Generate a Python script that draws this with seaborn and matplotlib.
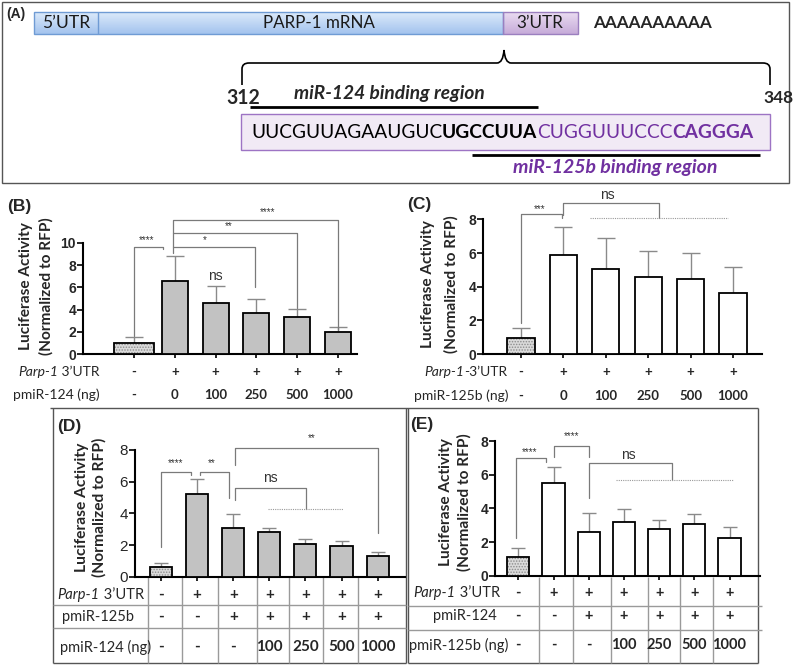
import numpy as np
import matplotlib
matplotlib.use('Agg')
import matplotlib.pyplot as plt
import matplotlib.transforms as mtransforms
from matplotlib.colors import LinearSegmentedColormap, to_rgba
from matplotlib.patches import Rectangle, PathPatch
from matplotlib.path import Path
import seaborn as sns

# ---- data ----
# (B) Parp-1 3'UTR + pmiR-124
b_means = [0.95, 6.6, 4.6, 3.65, 3.35, 1.95]
b_upper = [1.55, 8.8, 6.1, 5.0, 4.05, 2.45]
b_utr = ['-', '+', '+', '+', '+', '+']
b_dose = ['-', '0', '100', '250', '500', '1000']

# (C) Parp-1 3'UTR + pmiR-125b
c_means = [0.97, 5.86, 5.05, 4.55, 4.44, 3.64]
c_upper = [1.52, 7.56, 6.91, 6.12, 5.98, 5.19]
c_utr = ['-', '+', '+', '+', '+', '+']
c_dose = ['-', '0', '100', '250', '500', '1000']

# (D) pmiR-125b fixed, pmiR-124 titrated
d_means = [0.64, 5.2, 3.09, 2.85, 2.07, 1.97, 1.31]
d_upper = [0.85, 6.15, 3.97, 3.1, 2.39, 2.26, 1.59]
d_utr = ['-', '+', '+', '+', '+', '+', '+']
d_fixed = ['-', '-', '+', '+', '+', '+', '+']
d_dose = ['-', '-', '-', '100', '250', '500', '1000']

# (E) pmiR-124 fixed, pmiR-125b titrated
e_means = [1.09, 5.49, 2.6, 3.19, 2.75, 3.09, 2.22]
e_upper = [1.62, 6.44, 3.74, 3.94, 3.31, 3.68, 2.87]
e_utr = ['-', '+', '+', '+', '+', '+', '+']
e_fixed = ['-', '-', '+', '+', '+', '+', '+']
e_dose = ['-', '-', '-', '100', '250', '500', '1000']

seq_parts = ['UUCGUUAGAAUGUC', 'UGCCUUA', 'CUGGUUUCCC', 'CAGGGA']

W, H = 793, 669
PURPLE = '#7030a0'
GREY_BAR = '#c2c2c2'
BRK = '#7a7a7a'

sns.set_theme(style='ticks')
plt.rcParams['font.family'] = ['Lato', 'DejaVu Sans']
plt.rcParams['hatch.linewidth'] = 0.7

fig = plt.figure(figsize=(W / 100, H / 100), dpi=100)
fig.patch.set_facecolor('white')

# overlay axes in pixel coordinates for the schematic, labels and tables
ov = fig.add_axes([0, 0, 1, 1])
ov.set_xlim(0, W)
ov.set_ylim(H, 0)
ov.axis('off')
ov.patch.set_alpha(0)
renderer = fig.canvas.get_renderer()


def text_width(s, **kw):
    t = ov.text(0, 0, s, **kw)
    w = t.get_window_extent(renderer).width
    t.remove()
    return w


def rich(x, y, pieces, ha='left', size=10, target=None):
    widths = [text_width(s, fontsize=size, **kw) for s, kw in pieces]
    if target:
        size = size * target / sum(widths)
        widths = [w * target / sum(widths) for w in widths]
    total = sum(widths)
    start = {'left': x, 'right': x - total, 'center': x - total / 2}[ha]
    for (s, kw), w in zip(pieces, widths):
        ov.text(start, y, s, ha='left', va='center', fontsize=size, **kw)
        start += w


def fit(x, y, s, target, ha='center', size=10, **kw):
    w = text_width(s, fontsize=size, **kw)
    ov.text(x, y, s, ha=ha, va='center', fontsize=size * target / w, **kw)


def line(xs, ys, color='#555555', lw=1.0, **kw):
    ov.plot(xs, ys, color=color, lw=lw, solid_capstyle='butt', **kw)


# ================= panel A =================
ov.add_patch(Rectangle((2, 2), 787, 181, fill=False, ec='#555555', lw=1.0))
ov.text(6, 14, '(A)', fontsize=10, fontweight='bold', family='Liberation Sans', va='center')

grad = np.linspace(0, 1, 60).reshape(-1, 1)
blue = LinearSegmentedColormap.from_list('blue', ['#dceafa', '#a3c3ee'])
lilac = LinearSegmentedColormap.from_list('lilac', ['#eadcf1', '#c6abd9'])
ov.imshow(grad, extent=(34, 503, 34, 12), cmap=blue, aspect='auto', zorder=1)
ov.imshow(grad, extent=(503, 578, 34, 12), cmap=lilac, aspect='auto', zorder=1)
ov.set_xlim(0, W)
ov.set_ylim(H, 0)
ov.add_patch(Rectangle((34, 12), 469, 22, fill=False, ec='#6f9bd4', lw=1.0, zorder=2))
ov.add_patch(Rectangle((503, 12), 75, 22, fill=False, ec='#9b7fbf', lw=1.0, zorder=2))
line([98, 98], [12, 34], color='#6f9bd4')
fit(66, 23, '5’UTR', 48, color='#1a1a1a')
fit(319, 23, 'PARP-1 mRNA', 112, color='#1a1a1a')
fit(540, 23, '3’UTR', 47, color='#1a1a1a')
fit(652, 23, 'AAAAAAAAAA', 119, fontweight='bold')

brace = Path([(242, 85), (242, 69), (242, 63), (249, 63), (497, 63), (503, 63), (504, 50),
              (505, 63), (511, 63), (763, 63), (770, 63), (770, 69), (770, 85)],
             [Path.MOVETO, Path.LINETO, Path.CURVE3, Path.CURVE3, Path.LINETO, Path.CURVE3,
              Path.CURVE3, Path.CURVE3, Path.CURVE3, Path.LINETO, Path.CURVE3, Path.CURVE3,
              Path.LINETO])
ov.add_patch(PathPatch(brace, fill=False, ec='black', lw=1.2))
fit(243, 98, '312', 34, fontweight='bold')
fit(779, 98, '348', 30, fontweight='bold')
fit(389, 94, 'miR-124 binding region', 190, fontweight='bold', style='italic')
line([250, 538], [107, 107], color='black', lw=2)
ov.add_patch(Rectangle((241, 114), 529, 36, fc='#f1eaf5', ec='#9d74c4', lw=1.0))
rich(251, 132, [(seq_parts[0], dict(color='black')),
                (seq_parts[1], dict(color='black', fontweight='bold')),
                (seq_parts[2], dict(color=PURPLE)),
                (seq_parts[3], dict(color=PURPLE, fontweight='bold'))], target=502)
line([472, 760], [155, 155], color='black', lw=2)
fit(615, 168, 'miR-125b binding region', 204, fontweight='bold', style='italic', color=PURPLE)

# ================= frames for D / E =================
line([50, 758], [408, 408])
line([53, 53], [408, 663])
line([53, 406], [663, 663])
line([406, 406], [408, 663])
line([408, 408], [408, 663])
line([408, 758], [663, 663])
line([758, 758], [408, 663])
for yy in (605, 628):
    line([53, 406], [yy, yy], color='#9a9a9a')
for xx in (148, 182, 218, 257, 289, 323, 358):
    line([xx, xx], [577, 663], color='#9a9a9a')
for yy in (606, 630):
    line([408, 762], [yy, yy], color='#9a9a9a')
for xx in (539, 573, 611, 648, 680, 713):
    line([xx, xx], [577, 663], color='#9a9a9a')


# ================= bar panels =================
def bar_panel(left, right, base, unit, ytop, x0, step, means, upper, fill, width,
              yticks, capsize, tick_weight='bold', tick_size=10):
    n = len(means)
    top = base - ytop * unit
    ax = fig.add_axes([left / W, 1 - base / H, (right - left) / W, (base - top) / H])
    ax.patch.set_alpha(0)
    sns.barplot(x=np.arange(n), y=means, color=fill, saturation=1, width=width,
                edgecolor='black', linewidth=1.3, errorbar=None, ax=ax, zorder=3)
    means = np.asarray(means)
    ax.errorbar(np.arange(n), means, yerr=[np.zeros(n), np.asarray(upper) - means],
                fmt='none', ecolor='#8a8a8a', elinewidth=1.0, capsize=capsize,
                capthick=1.0, zorder=2)
    first = ax.patches[0]
    first.set_facecolor('#dadada')
    first.set_hatch('......')
    if hasattr(first, 'set_hatchcolor'):
        first.set_hatchcolor('#8c8c8c')
    else:
        first._hatch_color = to_rgba('#8c8c8c')
    ax.set_xlim((left - x0) / step, (right - x0) / step)
    ax.set_ylim(0, ytop)
    ax.set_xticks(np.arange(n))
    ax.set_xticklabels([])
    ax.set_yticks(yticks)
    ax.set_yticklabels([str(t) for t in yticks], fontweight=tick_weight,
                       family='Liberation Sans', fontsize=tick_size)
    ax.tick_params(axis='both', length=4, width=1.2, color='black', pad=1)
    ax.tick_params(axis='x', length=3)
    for s in ('top', 'right'):
        ax.spines[s].set_visible(False)
    ax.spines['left'].set_bounds(0, yticks[-1])
    for s in ('left', 'bottom'):
        ax.spines[s].set_linewidth(1.5)
        ax.spines[s].set_color('black')
    ax.set_xlabel('')
    ax.set_ylabel('')
    return ax


def bracket(ax, x1, x2, y, b1, b2, label, tx, ty, size=7, dotted=None):
    ax.plot([x1, x1, x2, x2], [b1, y, y, b2], color=BRK, lw=0.9, clip_on=False, zorder=4)
    ax.text(tx, ty, label, ha='center', va='center', fontsize=size,
            family='Liberation Sans', color='#333333', clip_on=False)
    if dotted:
        ax.plot(dotted[:2], [dotted[2]] * 2, color='#9a9a9a', lw=0.8, ls=(0, (1, 1)),
                clip_on=False, zorder=4)


def rows(ax, ys, values, size=9.5):
    tr = mtransforms.blended_transform_factory(ax.transData, ov.transData)
    for y, vals in zip(ys, values):
        for i, v in enumerate(vals):
            ax.text(i, y, v, transform=tr, ha='center', va='center', fontsize=size,
                    fontweight='bold', clip_on=False)


def ylabel(x1, x2, yc, length):
    ov_w = text_width('(Normalized to RFP)', fontsize=10, fontweight='bold')
    size = 10 * length / ov_w
    ov.text(x1, yc, 'Luciferase Activity', rotation=90, ha='center', va='center',
            fontsize=size, fontweight='bold')
    ov.text(x2, yc, '(Normalized to RFP)', rotation=90, ha='center', va='center',
            fontsize=size, fontweight='bold')


# ---- (B) ----
axB = bar_panel(83, 357, 354, 11.1, 13.5, 134, 40.8, b_means, b_upper, GREY_BAR, 0.64,
                [0, 2, 4, 6, 8, 10], 6.5)
pB = axB.patches[0]
pB.set_x(-0.5)
pB.set_width(1.0)
bracket(axB, 0, 0.7, 9.61, 1.6, 9.43, '****', 0.31, 10.25)
bracket(axB, 0.95, 2.97, 9.61, 9.07, 6.04, '*', 1.74, 10.25)
bracket(axB, 0.95, 3.99, 10.93, 9.61, 4.14, '**', 2.31, 11.55)
bracket(axB, 0.95, 4.99, 12.07, 10.93, 2.16, '****', 3.28, 12.75)
axB.text(2, 7.0, 'ns', ha='center', va='center', fontsize=10, family='Liberation Sans',
         color='#333333')
rows(axB, [372, 395], [b_utr, b_dose])
rich(100, 372, [('Parp-1', dict(style='italic')), (' 3’UTR', dict())], ha='right', size=10)
ov.text(100, 395, 'pmiR-124 (ng)', ha='right', va='center', fontsize=10)
ylabel(26, 46, 286, 138)
ov.text(7, 206, '(B)', fontsize=12.5, fontweight='bold', family='Liberation Sans', va='center')

# ---- (C) ----
axC = bar_panel(483, 762, 354, 16.83, 9.75, 521, 42.4, c_means, c_upper, 'white', 0.64,
                [0, 2, 4, 6, 8], 6.5)
bracket(axC, 0, 0.97, 8.32, 1.84, 8.08, '***', 0.45, 8.62)
bracket(axC, 1.0, 3.25, 8.97, 8.26, 8.08, 'ns', 2.03, 9.45, size=10, dotted=(1.63, 4.88, 8.08))
rows(axC, [372, 396], [c_utr, c_dose])
rich(507, 372, [('Parp-1', dict(style='italic')), ('-3’UTR', dict())], ha='right', size=10)
ov.text(508, 396, 'pmiR-125b (ng)', ha='right', va='center', fontsize=10)
ylabel(428, 451, 284, 138)
ov.text(407, 205, '(C)', fontsize=12.5, fontweight='bold', family='Liberation Sans', va='center')

# ---- (D) ----
axD = bar_panel(135, 405, 577, 15.9, 9.2, 161, 36.1, d_means, d_upper, GREY_BAR, 0.61,
                [0, 2, 4, 6, 8], 5, tick_weight='normal', tick_size=11)
bracket(axD, 0, 0.82, 6.62, 1.9, 6.4, '****', 0.39, 7.15)
bracket(axD, 1.08, 1.89, 6.62, 6.4, 4.95, '**', 1.4, 7.15)
bracket(axD, 2.05, 6.0, 8.09, 7.04, 2.75, '**', 4.17, 8.72)
bracket(axD, 2.05, 4.03, 5.58, 4.84, 4.26, 'ns', 3.02, 6.2, size=10, dotted=(2.97, 5.05, 4.26))
rows(axD, [595, 617, 647], [d_utr, d_fixed, d_dose], size=11)
rich(144, 595, [('Parp-1', dict(style='italic')), (' 3’UTR', dict())], ha='right', size=10.5)
ov.text(62, 617, 'pmiR-125b', ha='left', va='center', fontsize=10.5)
ov.text(60, 647, 'pmiR-124 (ng)', ha='left', va='center', fontsize=10.5)
ylabel(82, 99, 507, 140)
ov.text(57, 427, '(D)', fontsize=12.5, fontweight='bold', family='Liberation Sans', va='center')

# ---- (E) ----
axE = bar_panel(495, 760, 575.7, 16.83, 8.7, 518.3, 35.2, e_means, e_upper, 'white', 0.63,
                [0, 2, 4, 6, 8], 5)
bracket(axE, -0.07, 0.78, 7.01, 2.22, 6.77, '****', 0.31, 7.33)
bracket(axE, 1.01, 2.02, 7.71, 7.03, 7.03, '****', 1.52, 8.32)
bracket(axE, 2.02, 4.36, 6.71, 4.6, 5.69, 'ns', 3.14, 7.2, size=10, dotted=(2.77, 6.1, 5.69))
rows(axE, [593, 616, 645], [e_utr, e_fixed, e_dose], size=10.5)
rich(500, 593, [('Parp-1', dict(style='italic')), (' 3’UTR', dict())], ha='right', size=10.5)
ov.text(465, 616, 'pmiR-124', ha='center', va='center', fontsize=10.5)
ov.text(409, 645, 'pmiR-125b (ng)', ha='left', va='center', fontsize=10.5)
ylabel(446, 464, 502, 138)
ov.text(410, 424, '(E)', fontsize=12.5, fontweight='bold', family='Liberation Sans', va='center')

fig.savefig('out.png', dpi=100)
